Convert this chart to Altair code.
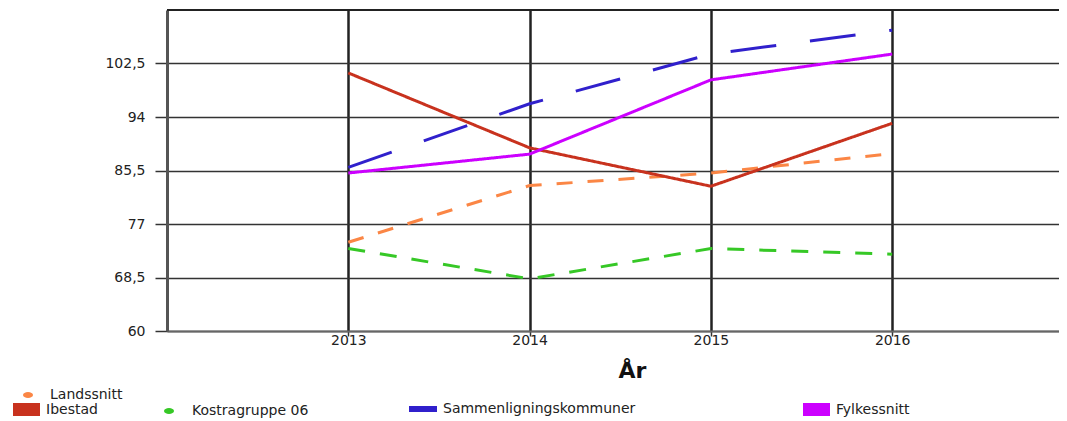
import altair as alt
import pandas as pd

# ---- data ----
years = [2013, 2014, 2015, 2016]
series_names = ["Landssnitt", "Ibestad", "Kostragruppe 06", "Sammenligningskommuner", "Fylkessnitt"]
landssnitt = [74.1, 83.1, 85.1, 88.2]
ibestad = [101.0, 89.1, 83.0, 93.0]
kostragruppe = [73.1, 68.3, 73.1, 72.2]
sammenligning = [86.0, 96.1, 104.0, 107.8]
fylkessnitt = [85.1, 88.1, 99.9, 104.0]
y_ticks = [60, 68.5, 77, 85.5, 94, 102.5]
y_top = 111
x_ticks = [2013, 2014, 2015, 2016]

colors = ["#fb8645", "#c8321e", "#36c826", "#3020cc", "#cc00ff"]
dashes = [[16, 15], [1, 0], [17, 15], [46, 34], [1, 0]]

values_by_series = [landssnitt, ibestad, kostragruppe, sammenligning, fylkessnitt]
rows = []
for name, vals in zip(series_names, values_by_series):
    for yr, v in zip(years, vals):
        rows.append({"series": name, "year": yr, "value": v})
df = pd.DataFrame(rows)

FONT = "DejaVu Sans"
PLOT_W, PLOT_H = 892, 321

x_scale = alt.Scale(domain=[2012, 2016.92], nice=False, zero=False)
y_scale = alt.Scale(domain=[60, y_top], nice=False, zero=False)

lines = alt.Chart(df).mark_line(strokeWidth=3, strokeCap="butt").encode(
    x=alt.X("year:Q", scale=x_scale,
            axis=alt.Axis(values=x_ticks, format="d", title="År", grid=True,
                          gridColor="#222", gridWidth=2.5, gridOpacity=1,
                          domainColor="#666", domainWidth=2,
                          tickColor="#333", tickWidth=1.5, tickSize=5,
                          labelFont=FONT, labelFontSize=14, labelColor="#222",
                          labelPadding=-3,
                          titleFont=FONT, titleFontSize=22, titleFontWeight="bold",
                          titleColor="#111", titleX=465, titleY=46,
                          titleAlign="center", titleBaseline="alphabetic")),
    y=alt.Y("value:Q", scale=y_scale,
            axis=alt.Axis(values=y_ticks, title=None, grid=True,
                          gridColor="#333", gridWidth=1.5, gridOpacity=1,
                          domainColor="#555", domainWidth=3,
                          tickColor="#333", tickWidth=1.5, tickSize=12,
                          labelFont=FONT, labelFontSize=14, labelColor="#222",
                          labelPadding=10,
                          labelExpr="replace(toString(datum.value), '.', ',')")),
    color=alt.Color("series:N", scale=alt.Scale(domain=series_names, range=colors), legend=None),
    strokeDash=alt.StrokeDash("series:N", scale=alt.Scale(domain=series_names, range=dashes), legend=None),
    detail="series:N",
)

top_border = alt.Chart(alt.Data(values=[{"v": y_top}])).mark_rule(
    color="#222", strokeWidth=2
).encode(y=alt.Y("v:Q", scale=y_scale))

# legend symbol shapes
ellipse = "M-1,0A1,0.6 0 1,0 1,0A1,0.6 0 1,0 -1,0Z"
big_rect = "M-1,-0.48H1V0.48H-1Z"
thin_rect = "M-1,-0.214H1V0.214H-1Z"
legend_specs = [
    # name, symbol, size, legendX, legendY, labelOffset
    ("Landssnitt", ellipse, 100, -146, 378, 15),
    ("Ibestad", big_rect, 729, -154, 386, 6),
    ("Kostragruppe 06", ellipse, 100, -5, 394, 16),
    ("Sammenligningskommuner", thin_rect, 784, 242, 385, 6),
    ("Fylkessnitt", big_rect, 729, 636, 386, 6),
]
legend_layers = []
for name, sym, size, lx, ly, off in legend_specs:
    col = colors[series_names.index(name)]
    legend_layers.append(
        alt.Chart(df).transform_filter(alt.datum.series == name).transform_filter("false")
        .mark_point(filled=True, opacity=1).encode(
            x=alt.X("year:Q", scale=x_scale),
            y=alt.Y("value:Q", scale=y_scale),
            fill=alt.Fill("series:N", scale=alt.Scale(domain=[name], range=[col]),
                          legend=alt.Legend(orient="none", legendX=lx, legendY=ly, title=None,
                                            symbolType=sym, symbolSize=size,
                                            symbolStrokeWidth=0, symbolOpacity=1,
                                            labelFont=FONT, labelFontSize=14,
                                            labelColor="#222", labelOffset=off,
                                            labelLimit=500, padding=0)),
        )
    )

chart = alt.layer(lines, top_border, *legend_layers).resolve_scale(
    fill="independent"
).properties(
    width=PLOT_W, height=PLOT_H,
    autosize=alt.AutoSizeParams(type="none"),
    padding={"left": 159, "top": 2, "right": 0, "bottom": 87},
).configure_view(stroke=None, fill="#efefef").configure(background="white")

chart.save("out.html", embed_options={"renderer": "svg", "actions": False})
